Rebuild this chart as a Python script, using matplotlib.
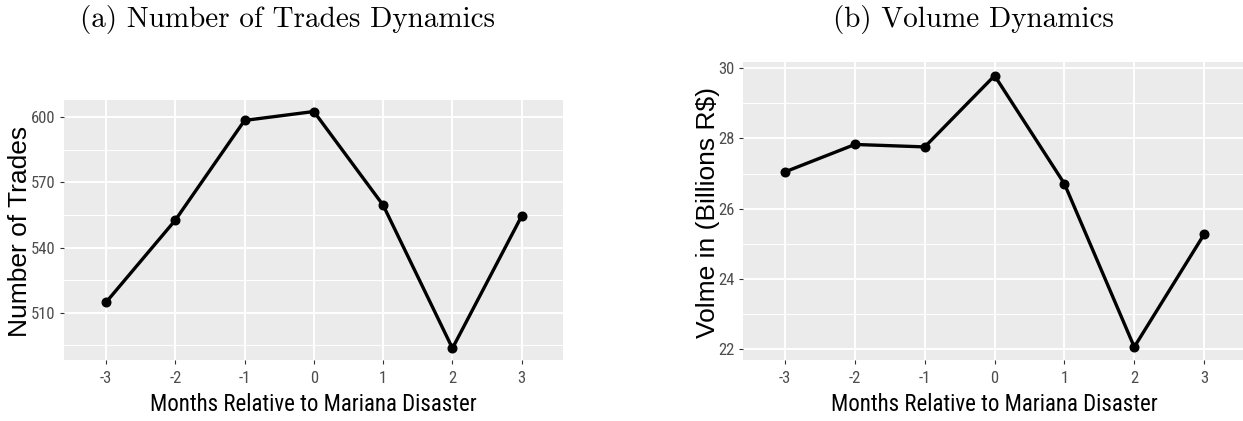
import matplotlib
matplotlib.use("Agg")
import matplotlib.pyplot as plt
import numpy as np

months = [-3, -2, -1, 0, 1, 2, 3]
trades = [514.8, 552.6, 598.5, 602.6, 559.5, 493.7, 554.6]
volume = [27.05, 27.83, 27.76, 29.79, 26.71, 22.06, 25.27]

trade_ticks = [510, 540, 570, 600]
trade_minor = [495, 525, 555, 585]
volume_ticks = [22, 24, 26, 28, 30]
volume_minor = [23, 25, 27, 29]

plt.rcParams["axes.unicode_minus"] = False
narrow = ["Roboto Condensed", "Liberation Sans Narrow", "Liberation Sans", "DejaVu Sans"]
sans = ["Liberation Sans", "DejaVu Sans"]
serif = ["cmr10", "DejaVu Serif"]

fig = plt.figure(figsize=(12.43, 4.21), dpi=100)


def gg_panel(rect, y, ylim, yticks, yminor, xlim, ylabel, ylab_x, xlab_pos):
    ax = fig.add_axes(rect)
    ax.set_facecolor("#EBEBEB")
    for s in ax.spines.values():
        s.set_visible(False)
    ax.set_xlim(*xlim)
    ax.set_ylim(*ylim)
    ax.set_xticks(months)
    ax.set_yticks(yticks)
    ax.set_yticks(yminor, minor=True)
    ax.grid(True, which="major", color="white", lw=1.4)
    ax.grid(True, which="minor", axis="y", color="white", lw=0.7)
    ax.set_axisbelow(True)
    ax.tick_params(which="major", length=3, width=0.8, color="#333333",
                   labelcolor="#4D4D4D", labelsize=12)
    ax.tick_params(axis="x", pad=5)
    ax.tick_params(axis="y", pad=3.5)
    ax.tick_params(which="minor", length=0)
    for lab in ax.get_xticklabels() + ax.get_yticklabels():
        lab.set_family(narrow)
    ax.plot(months, y, color="black", lw=2.4, marker="o", ms=6.2, zorder=3)
    ax.set_xlabel("Months Relative to Mariana Disaster", family=narrow,
                  fontsize=16.5, va="center")
    ax.xaxis.set_label_coords(*xlab_pos)
    ax.set_ylabel(ylabel, family=sans, fontsize=19, va="center")
    ax.yaxis.set_label_coords(ylab_x, 0.495)
    return ax


ax1 = gg_panel([0.0518, 0.1449, 0.4014, 0.6176], trades, (488.3, 607.9),
               trade_ticks, trade_minor, (-3.6, 3.6), "Number of Trades",
               -0.089, (0.5, -0.173))
ax2 = gg_panel([0.5979, 0.1449, 0.4021, 0.7071], volume, (21.69, 30.17),
               volume_ticks, volume_minor, (-3.6, 3.557), "Volme in (Billions R$)",
               -0.071, (0.503, -0.151))

fig.text(288 / 1243, 1 - 27 / 421, "(a) Number of Trades Dynamics",
         family=serif, fontsize=21, ha="center", va="baseline")
fig.text(973.6 / 1243, 1 - 27 / 421, "(b) Volume Dynamics",
         family=serif, fontsize=21, ha="center", va="baseline")

fig.savefig("out.png", dpi=100)
